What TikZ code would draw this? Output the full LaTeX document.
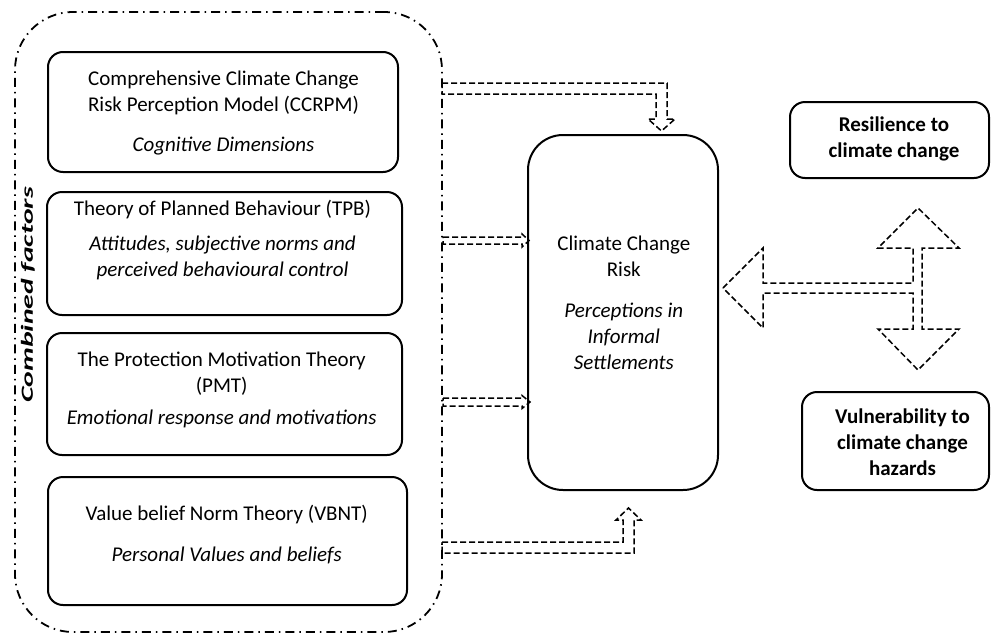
\documentclass[tikz,border=0pt]{standalone}
\usepackage{fontspec}
\setmainfont{Carlito}
\begin{document}
\begin{tikzpicture}[x=1pt,y=-1pt,
  box/.style={draw=black, line width=2pt, rounded corners=15pt, inner sep=0pt},
  grpbox/.style={draw=black, line width=1.8pt, rounded corners=58pt, inner sep=0pt,
    dash pattern=on 9pt off 5pt on 1.5pt off 5pt},
  txt/.style={anchor=north, inner sep=0pt, align=center, font=\fontsize{21}{26}\selectfont},
  btxt/.style={txt, font=\fontsize{21}{26}\selectfont\bfseries},
  harrow/.style={draw=black, line width=1.5pt, dash pattern=on 6pt off 3pt, line join=miter}
]
\useasboundingbox (0,0) rectangle (992,635);

% group frame
\node[grpbox, minimum width=427pt, minimum height=620pt] (grp) at (228.5,322) {};
\node[rotate=90, inner sep=0pt, font=\fontsize{17}{20}\selectfont\bfseries\itshape] (comb) at (28,295)
  {\scalebox{1.75}[1]{Combined factors}};

% theory boxes
\node[box, minimum width=350pt, minimum height=120pt] (b1) at (223,112) {};
\node[box, minimum width=355pt, minimum height=123pt] (b2) at (224.5,253.5) {};
\node[box, minimum width=355pt, minimum height=122pt] (b3) at (224.5,394) {};
\node[box, minimum width=359pt, minimum height=128pt] (b4) at (227.5,541) {};

\node[txt] (t1) at (223.5,66.8) {\strut Comprehensive Climate Change\\Risk Perception Model (CCRPM)\\[14pt]\textit{Cognitive Dimensions}};
\node[txt] (t2) at (222.5,196.8) {\strut Theory of Planned Behaviour (TPB)\\[9pt]\textit{Attitudes, subjective norms and}\\\textit{perceived behavioural control}};
\node[txt] (t3) at (221.7,347.8) {\strut The Protection Motivation Theory\\(PMT)\\[6pt]\textit{Emotional response and motivations}};
\node[txt] (t4) at (226.7,501.8) {\strut Value belief Norm Theory (VBNT)\\[15pt]\textit{Personal Values and beliefs}};

% central box
\node[box, rounded corners=35pt, minimum width=190pt, minimum height=355pt] (cc) at (623,312.5) {};
\node[txt] (tc) at (623.8,231.8) {\strut Climate Change\\Risk\\[15pt]\textit{Perceptions in}\\\textit{Informal}\\\textit{Settlements}};

% right boxes
\node[box, minimum width=199pt, minimum height=76pt] (res) at (889.5,140) {};
\node[btxt] (tres) at (894,113.5) {\strut Resilience to\\climate change};
\node[box, minimum width=187pt, minimum height=98pt] (vul) at (895.5,441) {};
\node[btxt] (tvul) at (902.5,405) {\strut Vulnerability to\\climate change\\hazards};

% hollow dashed arrows
\coordinate (a1s) at (442,83);
\draw[harrow] (a1s) -- (667,83) -- (667,119) -- (675,119) -- (661.5,131) -- (648,119) -- (656,119) -- (656,94) -- (442,94) -- cycle;

\coordinate (a2s) at (443,237);
\draw[harrow] (a2s) -- (522,237) -- (522,234) -- (529,240.5) -- (522,247) -- (522,244) -- (443,244) -- cycle;

\coordinate (a3s) at (443,398);
\draw[harrow] (a3s) -- (522,398) -- (522,395.5) -- (530,402) -- (522,408.5) -- (522,406) -- (443,406) -- cycle;

\coordinate (a4s) at (442,542);
\draw[harrow] (a4s) -- (623,542) -- (623,520) -- (616,520) -- (628.5,508) -- (641,520) -- (634,520) -- (634,553) -- (442,553) -- cycle;

% cross arrow
\coordinate (xtip) at (723,288);
\draw[harrow] (xtip) -- (763,248) -- (763,283) -- (913,283) -- (913,248) -- (878,248) -- (918,208) -- (959,248) -- (922,248)
  -- (922,329) -- (959,329) -- (918,370) -- (878,329) -- (913,329) -- (913,293) -- (763,293) -- (763,328) -- cycle;
\end{tikzpicture}
\end{document}
